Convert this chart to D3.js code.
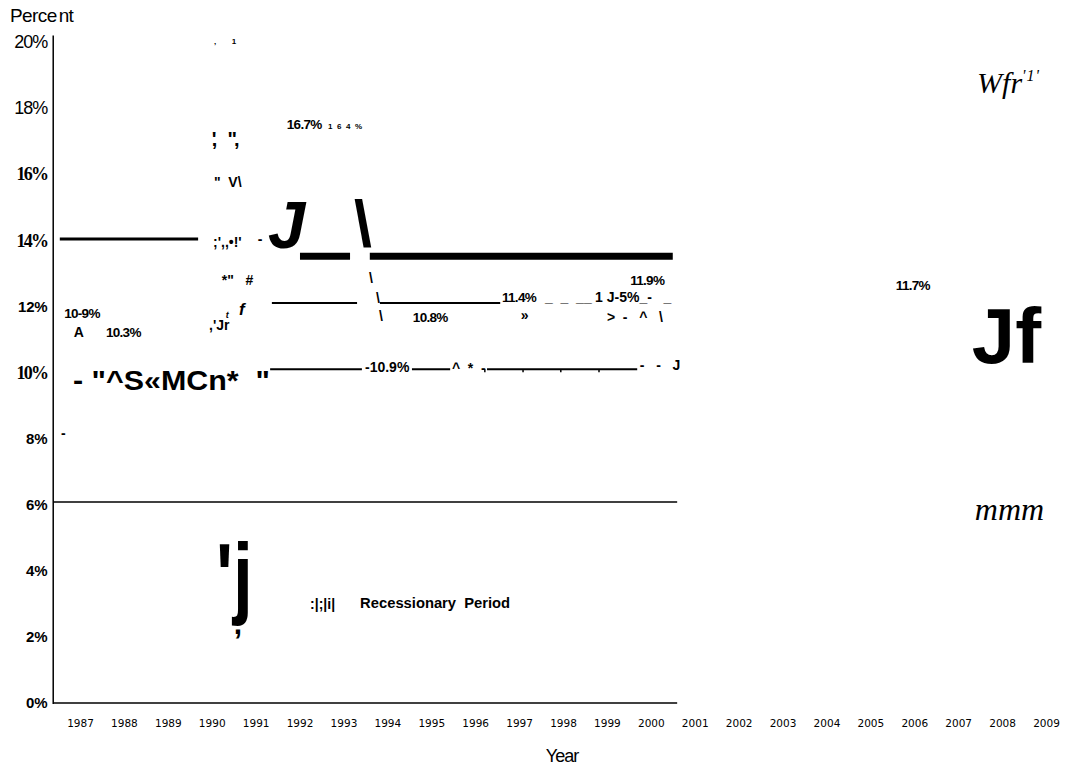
<!DOCTYPE html>
<html>
<head>
<meta charset="utf-8">
<script src="https://cdn.jsdelivr.net/npm/d3@7"></script>
<style>
  body { margin: 0; background: #fff; }
  svg text { fill: #000; white-space: pre; }
</style>
</head>
<body>
<div id="chart"></div>
<script>
// tick labels
var years = [1987, 1988, 1989, 1990, 1991, 1992, 1993, 1994, 1995, 1996, 1997, 1998,
             1999, 2000, 2001, 2002, 2003, 2004, 2005, 2006, 2007, 2008, 2009]
var pctTicks = [0, 2, 4, 6, 8, 10, 12, 14, 16, 18, 20]

// rule segments: [fromYear, toYear, percent]
var heavyRules = [[1992.01, 1993.15, 13.52], [1993.6, 2000.5, 13.52]]
var mediumRules = [[1986.54, 1989.69, 14.04]]
var thinRules = [[1991.37, 1993.31, 12.1], [1993.83, 1996.57, 12.1],
                 [1991.33, 1993.42, 10.1], [1994.56, 1995.43, 10.1], [1996.27, 1999.69, 10.1]]
var baseRules = [[1986.39, 2000.6, 6.08]]
var tickMarks = [1996.22, 1997.09, 1997.95, 1998.82]   // small ticks on the 10.1% rule

// labels: [text, year, percent]
var valueLabels = [["16.7%", 1991.71, 17.37], ["11.9%", 1999.53, 12.65], ["11.4%", 1996.61, 12.13],
                   ["10.8%", 1994.58, 11.53], ["10.3%", 1987.59, 11.07], ["11.7%", 2005.58, 12.5],
                   ["10-9%", 1986.64, 11.65]]
var smallLabels = [["1 6 4 %", 1992.65, 17.37], [",       1", 1990.05, 19.94]]
var markLabels = [["\"  V\\", 1990.05, 15.61], [";',,\u2022!'", 1990.03, 13.8], ["-", 1991.05, 13.89],
                  ["*\"   #", 1990.23, 12.65], [",'Jr", 1989.94, 11.29], ["\\", 1993.58, 12.71],
                  ["\\", 1993.74, 12.1], ["\\", 1993.81, 11.56], ["_  _  __", 1997.59, 12.13],
                  ["1 J-5%_-   _", 1998.73, 12.13], ["\u00bb", 1997.04, 11.59], [">  -   ^   \\", 1999.0, 11.53],
                  ["-10.9%", 1993.49, 10.02], ["^  *  -", 1995.47, 9.99], ["-   -   J", 1999.75, 10.08],
                  ["A", 1986.86, 11.07], ["-", 1986.57, 8.02], [":|;|i|", 1992.24, 2.84]]
var quoteMarks = [["'  \"", 1990.0, 16.85], [",   ,", 1990.0, 16.85]]
var italicMarks = [["t", 1990.32, 11.65, 9], ["f", 1990.62, 11.74, 17]]
var bigLabel = ["- \"^S\u00abMCn*  \"", 1986.84, 9.47]
var legendLabel = ["Recessionary  Period", 1993.38, 2.87]

var width = 1077, height = 766
var sans = "'Liberation Sans', Arial, sans-serif"
var serif = "'Liberation Serif', 'Times New Roman', serif"

var svg = d3.select("#chart")
    .append("svg")
    .attr("width", width)
    .attr("height", height)
    .style("background", "#fff")

var x = d3.scaleLinear().domain([1987, 2009]).range([80, 1046])
var y = d3.scaleLinear().domain([0, 20]).range([703, 42])

// axes lines
svg.append("line")
    .attr("x1", x(1986.39)).attr("x2", x(1986.39))
    .attr("y1", y(20.2)).attr("y2", y(0) + 1)
    .attr("stroke", "#000").attr("stroke-width", 1.5)
svg.append("line")
    .attr("x1", x(1986.39)).attr("x2", x(2000.6))
    .attr("y1", y(0)).attr("y2", y(0))
    .attr("stroke", "#000").attr("stroke-width", 1.5)

// y axis labels, mixed fonts like the original
var serifTicks = [10, 14, 16], lightTicks = [18, 20]
var yAxis = svg.append("g")
    .attr("transform", "translate(" + x(1986.39) + ",0)")
    .call(d3.axisLeft(y).tickValues(pctTicks).tickSize(0).tickPadding(6).tickFormat(function(d){ return d + "%" }))
yAxis.attr("font-family", null).attr("font-size", null)
yAxis.select(".domain").remove()
yAxis.selectAll("text")
    .attr("fill", "#000")
    .attr("font-family", function(d){ return serifTicks.includes(d) ? serif : sans })
    .attr("font-weight", function(d){ return lightTicks.includes(d) ? "normal" : "bold" })
    .attr("font-size", function(d){ return serifTicks.includes(d) ? 18 : lightTicks.includes(d) ? 18 : 15 })
    .attr("letter-spacing", function(d){ return serifTicks.includes(d) ? -1.8 : lightTicks.includes(d) ? -1 : -0.3 })

// x axis labels
var xAxis = svg.append("g")
    .attr("transform", "translate(0," + y(0) + ")")
    .call(d3.axisBottom(x).tickValues(years).tickSize(0).tickPadding(17).tickFormat(d3.format("d")))
xAxis.select(".domain").remove()
xAxis.selectAll("text")
    .attr("fill", "#333")
    .style("font-family", "'DejaVu Sans', sans-serif")
    .style("font-size", "10.5px")

// axis titles
svg.append("text").attr("x", 10).attr("y", 22)
    .style("font-family", sans).style("font-size", "19px").style("letter-spacing", "-0.6px")
    .text("Perce")
    .append("tspan").attr("dx", 2).text("nt")
svg.append("text").attr("x", 562).attr("y", 762).attr("text-anchor", "middle")
    .style("font-family", sans).style("font-size", "18px").style("letter-spacing", "-1px")
    .text("Year")

// rules
function drawRules(data, w){
    svg.selectAll(null)
        .data(data)
        .enter()
        .append("line")
        .attr("x1", function(d){ return x(d[0]) })
        .attr("x2", function(d){ return x(d[1]) })
        .attr("y1", function(d){ return y(d[2]) })
        .attr("y2", function(d){ return y(d[2]) })
        .attr("stroke", "#000")
        .attr("stroke-width", w)
}
drawRules(heavyRules, 7)
drawRules(mediumRules, 3)
drawRules(thinRules, 2)
drawRules(baseRules, 1.5)

svg.selectAll(null)
    .data(tickMarks)
    .enter()
    .append("line")
    .attr("x1", function(d){ return x(d) })
    .attr("x2", function(d){ return x(d) })
    .attr("y1", y(10.1))
    .attr("y2", y(10.1) + 3)
    .attr("stroke", "#000")
    .attr("stroke-width", 1.5)

// labels
function drawLabels(data, size, family, weight, style){
    return svg.selectAll(null)
        .data(data)
        .enter()
        .append("text")
        .attr("x", function(d){ return x(d[1]) })
        .attr("y", function(d){ return y(d[2]) })
        .style("font-family", family)
        .style("font-weight", weight)
        .style("font-style", style || "normal")
        .style("font-size", size + "px")
        .text(function(d){ return d[0] })
}
drawLabels(valueLabels, 13.5, sans, "bold").style("letter-spacing", "-0.7px")
drawLabels(smallLabels, 8, sans, "bold")
    .attr("textLength", function(d, i){ return i == 0 ? 34 : null })
    .attr("lengthAdjust", "spacing")
drawLabels(markLabels, 14, sans, "bold")
drawLabels(quoteMarks, 20, sans, "bold")

svg.selectAll(null)
    .data(italicMarks)
    .enter()
    .append("text")
    .attr("x", function(d){ return x(d[1]) })
    .attr("y", function(d){ return y(d[2]) })
    .style("font-family", sans).style("font-weight", "bold").style("font-style", "italic")
    .style("font-size", function(d){ return d[3] + "px" })
    .text(function(d){ return d[0] })

svg.append("text")
    .attr("x", x(bigLabel[1])).attr("y", y(bigLabel[2]))
    .attr("textLength", 197).attr("lengthAdjust", "spacingAndGlyphs")
    .style("font-family", sans).style("font-weight", "bold").style("font-size", "28px")
    .text(bigLabel[0])

svg.append("text")
    .attr("x", x(legendLabel[1])).attr("y", y(legendLabel[2]))
    .attr("textLength", 150).attr("lengthAdjust", "spacingAndGlyphs")
    .style("font-family", sans).style("font-weight", "bold").style("font-size", "14px")
    .text(legendLabel[0])

// the large broken glyphs
svg.append("text")
    .attr("x", x(1991.28)).attr("y", y(13.77))
    .style("font-family", sans).style("font-weight", "bold").style("font-style", "italic")
    .style("font-size", "67px")
    .text("J")
svg.append("text")
    .attr("x", x(1993.24)).attr("y", y(13.83))
    .style("font-family", sans).style("font-weight", "bold").style("font-size", "64px")
    .text("\\")
svg.append("text")
    .attr("transform", "translate(" + x(1990.1) + "," + y(2.9) + ") scale(1.15,1.45)")
    .style("font-family", sans).style("font-weight", "bold").style("font-size", "62px")
    .text("'j")
svg.append("text")
    .attr("x", x(1990.5)).attr("y", y(2.1))
    .style("font-family", sans).style("font-weight", "bold").style("font-size", "30px")
    .text(",")

// right-hand column
svg.append("text")
    .attr("x", x(2007.43)).attr("y", y(18.45))
    .style("font-family", serif).style("font-style", "italic").style("font-size", "30px")
    .text("Wfr")
    .append("tspan").attr("dy", -12).style("font-size", "16px").style("letter-spacing", "1px").text("'1'")
svg.append("text")
    .attr("x", x(2007.31)).attr("y", y(10.29))
    .style("font-family", sans).style("font-weight", "bold").style("font-size", "78px")
    .text("Jf")
svg.append("text")
    .attr("x", x(2007.38)).attr("y", y(5.55))
    .style("font-family", serif).style("font-style", "italic").style("font-size", "32px")
    .text("mmm")
</script>
</body>
</html>
